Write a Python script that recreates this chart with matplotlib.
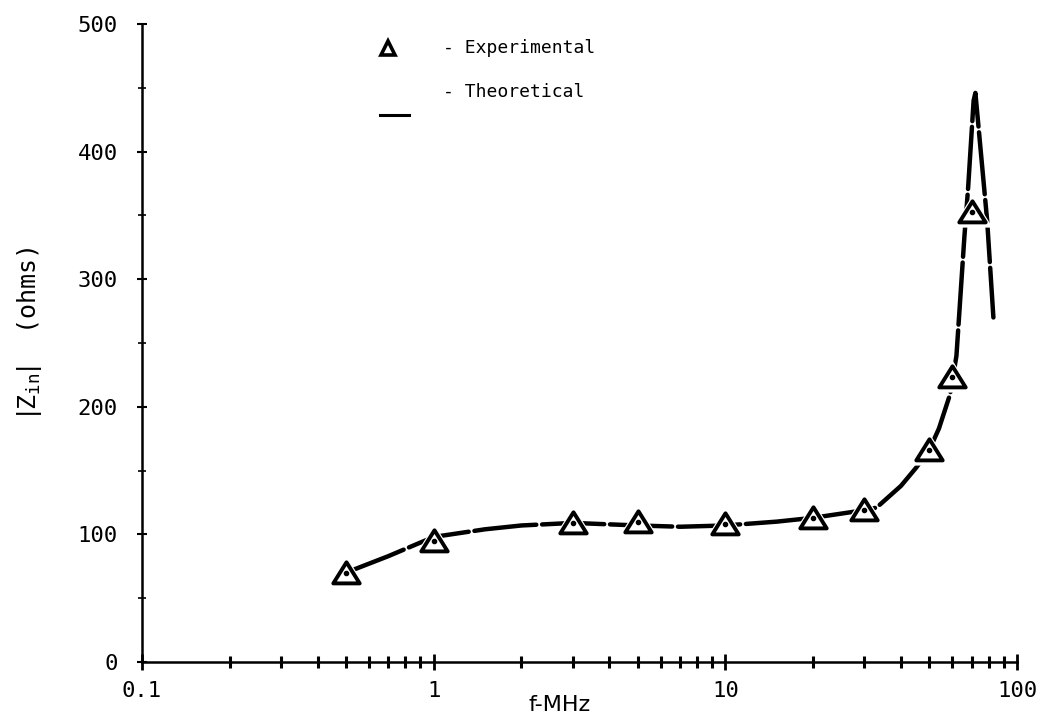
import numpy as np
import matplotlib
matplotlib.use("Agg")
import matplotlib.pyplot as plt
from matplotlib.path import Path
from matplotlib.ticker import LogLocator, NullFormatter, MultipleLocator, FixedLocator, FixedFormatter

plt.rcParams['mathtext.fontset'] = 'dejavusans'

# measured impedance magnitude
f_exp = [0.5, 1, 3, 5, 10, 20, 30, 50, 60, 70]
z_exp = [70, 95, 109, 110, 108, 113, 119, 166, 223, 353]

# theoretical curve
f_th = [0.5, 0.7, 1.0, 1.5, 2, 3, 5, 7, 10, 15, 20, 30, 33, 40, 45, 50, 54, 59, 62, 66, 68, 71, 72, 79, 83]
z_th = [70, 83, 98, 104, 107, 109, 107, 106, 107, 110, 113, 119, 121, 138, 152, 166, 183, 210, 240, 333, 372, 440, 446, 346, 270]

x_ticks = [0.1, 1, 10, 100]
x_ticklabels = ['0.1', '1', '10', '100']
y_ticks = [0, 100, 200, 300, 400, 500]

mono = 'DejaVu Sans Mono'
fs = 16

fig = plt.figure(figsize=(10.4, 7.21), dpi=100)
ax = fig.add_axes([142/1040, 59/721, 875/1040, 638/721])

# triangle marker, a bit flatter than the default
tri = Path([(-1, -0.75), (1, -0.75), (0, 0.85), (-1, -0.75)],
           [Path.MOVETO, Path.LINETO, Path.LINETO, Path.CLOSEPOLY])

ax.plot(f_th, z_th, color='black', lw=3.2, ls=(0, (14, 1.3)),
        solid_capstyle='round', dash_capstyle='round', zorder=2)
ax.plot(f_exp, z_exp, ls='none', marker=tri, ms=29, mfc='white', mec='white', mew=0, zorder=3)
ax.plot(f_exp, z_exp, ls='none', marker=tri, ms=19, mfc='white', mec='black', mew=2.8, zorder=4)
ax.plot(f_exp, z_exp, ls='none', marker='o', ms=3, mfc='black', mec='black', zorder=5)

ax.set_xscale('log')
ax.set_xlim(0.1, 100)
ax.set_ylim(0, 500)

for s in ['top', 'right']:
    ax.spines[s].set_visible(False)
for s in ['left', 'bottom']:
    ax.spines[s].set_linewidth(1.8)

ax.xaxis.set_major_locator(FixedLocator(x_ticks))
ax.xaxis.set_major_formatter(FixedFormatter(x_ticklabels))
ax.xaxis.set_minor_locator(LogLocator(base=10, subs=np.arange(2, 10)))
ax.xaxis.set_minor_formatter(NullFormatter())
ax.set_yticks(y_ticks)
ax.yaxis.set_minor_locator(MultipleLocator(50))

ax.tick_params(axis='x', which='major', direction='inout', length=11, width=2, pad=8,
               labelsize=fs)
ax.tick_params(axis='x', which='minor', direction='inout', length=8, width=2.2)
ax.tick_params(axis='y', which='major', direction='inout', length=7, width=1.5, pad=14,
               labelsize=fs)
ax.tick_params(axis='y', which='minor', direction='inout', length=6, width=1.2)
for lab in ax.get_xticklabels() + ax.get_yticklabels():
    lab.set_fontfamily(mono)

# axis titles placed by hand so they stay inside the canvas
fig.text(560/1040, 1 - 705/721, 'f-MHz', fontsize=fs, fontfamily='DejaVu Sans',
         ha='center', va='center')
fig.text(30/1040, 1 - 332/721, r'$|\mathtt{Z}_{\mathtt{in}}|$  (ohms)', fontsize=18,
         fontfamily=mono, rotation=90, ha='center', va='center')

# legend drawn by hand, as on the original
ax.plot([0.281], [0.962], transform=ax.transAxes, marker='^', ms=10,
        mfc='white', mec='black', mew=2.6, clip_on=False)
ax.plot([0.272, 0.305], [0.858, 0.858], transform=ax.transAxes, color='black',
        lw=2.2, clip_on=False)
ax.text(0.344, 0.962, '- Experimental', transform=ax.transAxes, fontsize=13,
        fontfamily=mono, va='center', ha='left')
ax.text(0.344, 0.893, '- Theoretical', transform=ax.transAxes, fontsize=13,
        fontfamily=mono, va='center', ha='left')

fig.savefig('out.png', dpi=100)
